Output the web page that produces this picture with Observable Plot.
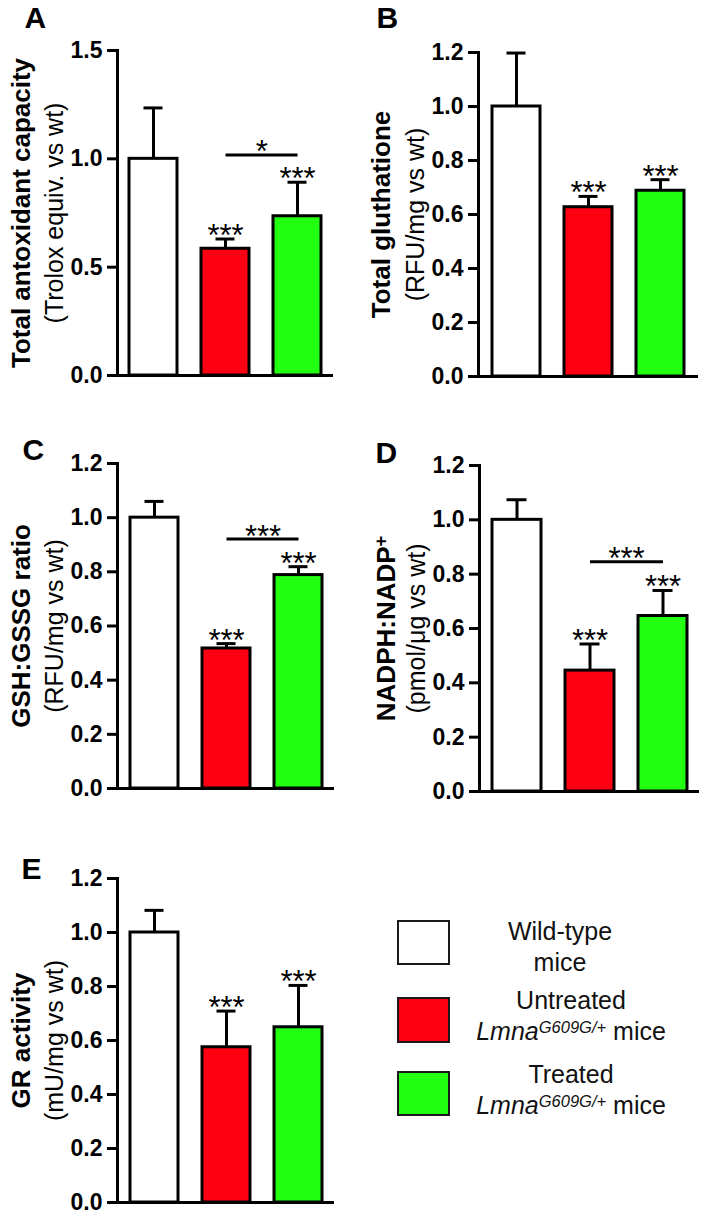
<!DOCTYPE html>
<html><head><meta charset="utf-8">
<script src="https://cdn.jsdelivr.net/npm/d3@7"></script>
<script src="https://cdn.jsdelivr.net/npm/@observablehq/plot@0.6"></script>
<style>
body{margin:0;background:#fff;}
#fig{position:relative;width:709px;height:1219px;font-family:"Liberation Sans",Arial,sans-serif;color:#000;overflow:hidden;}
.panel{position:absolute;}
.leg-box{position:absolute;box-sizing:border-box;border:2px solid #1a1a1a;}
.leg-line{position:absolute;font-size:25px;line-height:30px;white-space:nowrap;transform:translateX(-50%);color:#111;}
.leg-line sup{font-size:0.66em;vertical-align:baseline;position:relative;top:-0.45em;font-style:italic;}
</style></head>
<body><div id="fig"></div>
<script>
// ---- data ----
const groupKeys = ["Wild-type", "Untreated", "Treated"];
const groupColors = ["#ffffff", "#ff0013", "#22ff11"];

const panelLetters = ["A", "B", "C", "D", "E"];
const titles = ["Total antoxidant capacity", "Total gluthatione", "GSH:GSSG ratio", "NADPH:NADP+", "GR activity"];
const subtitles = ["(Trolox equiv. vs wt)", "(RFU/mg vs wt)", "(RFU/mg vs wt)", "(pmol/\u03bcg vs wt)", "(mU/mg vs wt)"];

const meansA = [1.0, 0.585, 0.735];
const semA   = [0.235, 0.045, 0.157];
const meansB = [1.0, 0.627, 0.688];
const semB   = [0.198, 0.040, 0.041];
const meansC = [1.0, 0.517, 0.788];
const semC   = [0.060, 0.018, 0.031];
const meansD = [1.0, 0.445, 0.646];
const semD   = [0.074, 0.098, 0.094];
const meansE = [1.0, 0.575, 0.649];
const semE   = [0.082, 0.134, 0.155];

const starsVsWT = ["", "***", "***"];
const bracketLabels = ["*", null, "***", "***", null];
const bracketValues = [1.018, null, 0.921, 0.846, null];

const ticksA = [0, 0.5, 1.0, 1.5];
const ticks12 = [0, 0.2, 0.4, 0.6, 0.8, 1.0, 1.2];
const yMax = [1.5, 1.2, 1.2, 1.2, 1.2];

const legendLine1 = ["Wild-type", "Untreated", "Treated"];
const legendGene = [null, "Lmna", "Lmna"];
const legendAllele = [null, "G609G/+", "G609G/+"];
const legendTail = ["mice", "mice", "mice"];

// ---- layout ----
const layout = [
  {left: 0,   top: 0,   width: 340, height: 420, mt: 50, mb: 45, ml: 117, mr: 7,  po: 0.155, tdx: -96, lx: 24, ly: 27},
  {left: 340, top: 0,   width: 369, height: 420, mt: 52, mb: 44, ml: 138, mr: 11, po: 0.175, tdx: -97, lx: 36, ly: 27},
  {left: 0,   top: 420, width: 340, height: 420, mt: 43, mb: 52, ml: 117, mr: 6,  po: 0.155, tdx: -96, lx: 22, ly: 39},
  {left: 340, top: 420, width: 369, height: 420, mt: 45, mb: 49, ml: 139, mr: 10, po: 0.172, tdx: -93, lx: 35, ly: 42},
  {left: 0,   top: 840, width: 340, height: 379, mt: 38, mb: 17, ml: 117, mr: 6,  po: 0.155, tdx: -96, lx: 21, ly: 38}
];
const paddingInner = 0.335;

const means = [meansA, meansB, meansC, meansD, meansE];
const sems = [semA, semB, semC, semD, semE];
const tickSets = [ticksA, ticks12, ticks12, ticks12, ticks12];

const fig = document.getElementById("fig");
const FONT = "Liberation Sans, Arial, Helvetica, sans-serif";

layout.forEach((L, p) => {
  const data = groupKeys.map((g, i) => ({g, mean: means[p][i], top: means[p][i] + sems[p][i], star: starsVsWT[i]}));
  const brackets = bracketLabels[p] ? [{a: groupKeys[1], b: groupKeys[2], y: bracketValues[p], label: bracketLabels[p]}] : [];
  const step = (L.width - L.ml - L.mr) / (groupKeys.length - paddingInner + 2 * L.po);
  const chart = Plot.plot({
    width: L.width, height: L.height,
    marginTop: L.mt, marginBottom: L.mb, marginLeft: L.ml, marginRight: L.mr,
    style: {fontFamily: FONT, background: "transparent", overflow: "visible", color: "#000"},
    x: {domain: groupKeys, paddingInner, paddingOuter: L.po, align: 0.5, axis: null},
    y: {domain: [0, yMax[p]], axis: null},
    color: {domain: groupKeys, range: groupColors},
    marks: [
      Plot.ruleX(data, {x: "g", y1: "mean", y2: "top", stroke: "#000", strokeWidth: 3}),
      Plot.tickY(data, {x: "g", y: "top", stroke: "#000", strokeWidth: 3, insetLeft: 14.5, insetRight: 14.5}),
      Plot.barY(data, {x: "g", y: "mean", fill: "g", stroke: "#000", strokeWidth: 3}),
      Plot.axisY({ticks: tickSets[p], tickFormat: d3.format(".1f"), tickSize: 10, tickPadding: 5,
                  strokeWidth: 3, fontSize: 23, fontWeight: "bold", label: null}),
      Plot.frame({anchor: "left", strokeWidth: 3, stroke: "#000"}),
      Plot.ruleY([0], {stroke: "#000", strokeWidth: 3}),
      Plot.text(data.filter(d => d.star), {x: "g", y: "top", text: "star", lineAnchor: "top", dy: -15, fontSize: 31}),
      Plot.link(brackets, {x1: "a", x2: "b", y1: "y", y2: "y", stroke: "#000", strokeWidth: 3}),
      Plot.text(brackets, {x: "a", y: "y", text: "label", lineAnchor: "top", dx: step / 2, dy: -14.5, fontSize: 31}),
      Plot.text([titles[p]], {text: d => d, frameAnchor: "left", textAnchor: "middle", lineAnchor: "middle",
                  rotate: -90, dx: L.tdx, fontSize: 26, fontWeight: "bold"}),
      Plot.text([subtitles[p]], {text: d => d, frameAnchor: "left", textAnchor: "middle", lineAnchor: "middle",
                  rotate: -90, dx: -63, fontSize: 25}),
      Plot.text([panelLetters[p]], {text: d => d, frameAnchor: "top-left", textAnchor: "start", lineAnchor: "bottom",
                  dx: L.lx - L.ml, dy: L.ly - L.mt, fontSize: 30, fontWeight: "bold"})
    ]
  });
  // superscript "+" for NADP+
  chart.querySelectorAll("text").forEach(t => {
    if (t.textContent === "NADPH:NADP+") {
      t.textContent = "NADPH:NADP";
      const ts = document.createElementNS("http://www.w3.org/2000/svg", "tspan");
      ts.setAttribute("dy", "-0.45em");
      ts.setAttribute("font-size", "0.7em");
      ts.textContent = "+";
      t.appendChild(ts);
    }
  });
  const wrap = document.createElement("div");
  wrap.className = "panel";
  wrap.style.left = L.left + "px";
  wrap.style.top = L.top + "px";
  wrap.appendChild(chart);
  fig.appendChild(wrap);
});

// ---- legend ----
const legBoxes = [
  {left: 397, top: 920, w: 53, h: 45},
  {left: 397, top: 997, w: 53, h: 46},
  {left: 397, top: 1071, w: 53, h: 45}
];
const legText = [
  {cx: 560, b1: 940, b2: 971},
  {cx: 571, b1: 1009, b2: 1040},
  {cx: 571, b1: 1083, b2: 1114}
];
const BASE = 23.7;
groupKeys.forEach((g, i) => {
  const box = document.createElement("div");
  box.className = "leg-box";
  Object.assign(box.style, {left: legBoxes[i].left + "px", top: legBoxes[i].top + "px",
    width: legBoxes[i].w + "px", height: legBoxes[i].h + "px", background: groupColors[i]});
  fig.appendChild(box);
  const l1 = document.createElement("div");
  l1.className = "leg-line";
  l1.style.left = legText[i].cx + "px";
  l1.style.top = (legText[i].b1 - BASE) + "px";
  l1.textContent = legendLine1[i];
  fig.appendChild(l1);
  const l2 = document.createElement("div");
  l2.className = "leg-line";
  l2.style.left = legText[i].cx + "px";
  l2.style.top = (legText[i].b2 - BASE) + "px";
  if (legendGene[i]) {
    const it = document.createElement("i"); it.textContent = legendGene[i];
    const sup = document.createElement("sup"); sup.textContent = legendAllele[i];
    l2.appendChild(it); l2.appendChild(sup);
    l2.appendChild(document.createTextNode(" " + legendTail[i]));
  } else {
    l2.textContent = legendTail[i];
  }
  fig.appendChild(l2);
});
</script>
</body></html>
